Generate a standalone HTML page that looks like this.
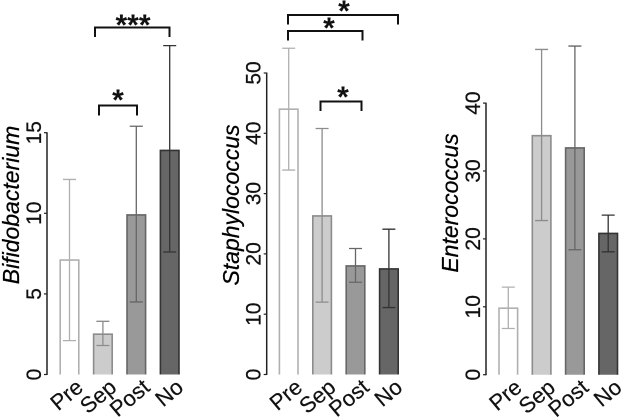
<!DOCTYPE html>
<html>
<head>
<meta charset="utf-8">
<style>
html,body{margin:0;padding:0;background:#fff;}
svg{display:block;font-family:"Liberation Sans",sans-serif;}
</style>
</head>
<body>
<svg id="chart" width="625" height="418" viewBox="0 0 625 418" xmlns="http://www.w3.org/2000/svg">
  <g id="plots" style="filter:blur(0.35px)"></g>
  <g fill="none" stroke="#111" stroke-width="2" style="filter:blur(0.3px)">
    <path d="M95 37V27.5H169.5V37"/>
    <path d="M99 115.500V105.500H137V115.500"/>
    <path d="M288 24.500V15H398V24.500"/>
    <path d="M288 40.500V31H362.500V40.500"/>
    <path d="M320.500 111V101.500H361.500V111"/>
  </g>
  <g font-size="30" font-weight="bold" text-anchor="middle" fill="#111">
    <text x="133" y="35">***</text>
    <text x="118" y="110">*</text>
    <text x="344" y="21">*</text>
    <text x="329" y="38">*</text>
    <text x="343" y="107">*</text>
  </g>
</svg>
<script>
var categories = ['Pre', 'Sep', 'Post', 'No'];
var bifidoMeans = [7.1, 2.5, 9.9, 13.9];
var bifidoUpper = [12.1, 3.3, 15.4, 20.4];
var bifidoLower = [2.1, 1.8, 4.5, 7.6];
var bifidoTicks = [0, 5, 10, 15];
var staphMeans = [44, 26.3, 18, 17.5];
var staphUpper = [54.1, 40.8, 20.9, 24.1];
var staphLower = [33.9, 12, 15.3, 11.1];
var staphTicks = [0, 10, 20, 30, 40, 50];
var enteroMeans = [9.8, 35.2, 33.4, 20.8];
var enteroUpper = [12.9, 47.9, 48.4, 23.5];
var enteroLower = [6.8, 22.7, 18.4, 18.1];
var enteroTicks = [0, 10, 20, 30, 40];

var fills = ['#ffffff', '#cccccc', '#999999', '#666666'];
var strokes = ['#b0b0b0', '#8c8c8c', '#666666', '#333333'];
var NS = 'http://www.w3.org/2000/svg';
var root = document.getElementById('plots');

function make(parent, tag, attrs, text) {
  var el = document.createElementNS(NS, tag);
  for (var k in attrs) el.setAttribute(k, attrs[k]);
  if (text !== undefined) el.textContent = text;
  parent.appendChild(el);
  return el;
}

function drawPanel(cfg) {
  var y = function (v) { return cfg.y0 - v * cfg.pxPerUnit; };
  var x = function (i) { return cfg.x0 + i * cfg.step; };
  var g = make(root, 'g', {});
  
  

  var label = make(g, 'text', {
    transform: 'translate(' + cfg.titleX + ' ' + cfg.titleY + ') rotate(-90)',
    'font-size': 23, 'font-style': 'italic', 'text-anchor': 'middle', fill: '#000',
    stroke: '#000', 'stroke-width': 0.25
  }, cfg.title);
  
  

  var maxTick = cfg.ticks[cfg.ticks.length - 1];
  var axis = make(g, 'line', {
    x1: cfg.axisX, x2: cfg.axisX, y1: y(maxTick) - 0.5, y2: y(0) + 0.5,
    stroke: '#222', 'stroke-width': 1.5
  });
  
  

  cfg.ticks.forEach(function (t) {
    var tick = make(g, 'line', {
      x1: cfg.axisX - 3, x2: cfg.axisX, y1: y(t), y2: y(t),
      stroke: '#222', 'stroke-width': 1.2
    });
    
    
    var tl = make(g, 'text', {
      transform: 'translate(' + (cfg.axisX - 6) + ' ' + y(t) + ') rotate(-90)',
      'font-size': 21, 'text-anchor': 'middle', fill: '#111',
      stroke: '#111', 'stroke-width': 0.25
    }, t);
    
    
  });

  categories.forEach(function (c, i) {
    var cx = x(i);
    var top = y(cfg.means[i]);
    var bar = make(g, 'path', {
      d: 'M' + (cx - 9.3) + ' ' + y(0) + 'V' + top + 'H' + (cx + 9.3) + 'V' + y(0),
      fill: fills[i], stroke: strokes[i], 'stroke-width': 1.6
    });
    
    

    var err = make(g, 'path', {
      d: 'M' + cx + ' ' + y(cfg.upper[i]) + 'V' + y(cfg.lower[i]) +
         'M' + (cx - 6.5) + ' ' + y(cfg.upper[i]) + 'H' + (cx + 6.5) +
         'M' + (cx - 6.5) + ' ' + y(cfg.lower[i]) + 'H' + (cx + 6.5),
      fill: 'none', stroke: strokes[i], 'stroke-width': 1.3
    });
    
    

    var xl = make(g, 'text', {
      transform: 'translate(' + (cx + 15) + ' ' + (y(0) + 15) + ') rotate(-40)',
      'font-size': 22, 'text-anchor': 'end', fill: '#111',
      stroke: '#111', 'stroke-width': 0.2
    }, c);
    
    
  });
}

drawPanel({ key: 'bifidobacterium', title: 'Bifidobacterium', titleX: 19, titleY: 205,
  axisX: 47, x0: 69.5, step: 33.4, y0: 374.5, pxPerUnit: 16.12,
  means: bifidoMeans, upper: bifidoUpper, lower: bifidoLower, ticks: bifidoTicks });
drawPanel({ key: 'staphylococcus', title: 'Staphylococcus', titleX: 239, titleY: 205,
  axisX: 266.7, x0: 288.7, step: 33.4, y0: 374.5, pxPerUnit: 6.03,
  means: staphMeans, upper: staphUpper, lower: staphLower, ticks: staphTicks });
drawPanel({ key: 'enterococcus', title: 'Enterococcus', titleX: 458, titleY: 203,
  axisX: 486, x0: 508.3, step: 33.3, y0: 374.7, pxPerUnit: 6.79,
  means: enteroMeans, upper: enteroUpper, lower: enteroLower, ticks: enteroTicks });
</script>
</body>
</html>
